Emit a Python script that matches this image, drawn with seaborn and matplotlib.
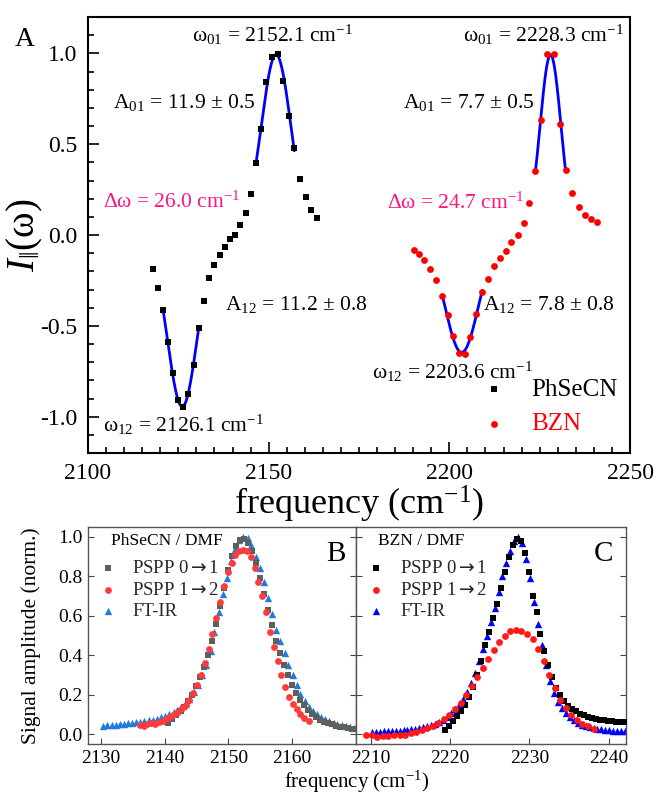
import numpy as np
import pandas as pd
import matplotlib
matplotlib.use("Agg")
import matplotlib.pyplot as plt
import seaborn as sns
from matplotlib.ticker import MultipleLocator

# ---------------- data (panel A) ----------------
phsecn_freq = [2117.9, 2119.4, 2120.75, 2122.1, 2123.5, 2124.9, 2126.3, 2127.8, 2129.2, 2130.6,
               2132.0, 2133.4, 2134.9, 2136.4, 2137.8, 2139.25, 2140.75, 2142.2, 2143.6, 2145.1,
               2146.5, 2148.0, 2149.4, 2151.0, 2152.6, 2154.1, 2155.6, 2157.1, 2158.6, 2160.2,
               2161.7, 2163.3]
phsecn_int = [-0.188, -0.289, -0.413, -0.589, -0.759, -0.910, -0.949, -0.875, -0.713, -0.514,
              -0.363, -0.234, -0.166, -0.109, -0.068, -0.024, 0.000, 0.053, 0.122, 0.227,
              0.396, 0.586, 0.841, 0.978, 0.996, 0.849, 0.654, 0.481, 0.306, 0.208,
              0.140, 0.094]
bzn_freq = [2190.1, 2191.6, 2193.1, 2194.7, 2196.4, 2198.0, 2199.5, 2201.0, 2202.6, 2204.25,
            2205.8, 2207.4, 2209.1, 2210.75, 2212.3, 2214.0, 2215.6, 2217.2, 2218.9, 2220.6,
            2222.1, 2223.8, 2225.5, 2227.1, 2228.9, 2230.6, 2232.2, 2234.0, 2235.8, 2237.5,
            2239.2, 2240.9]
bzn_int = [-0.083, -0.105, -0.138, -0.185, -0.245, -0.335, -0.442, -0.558, -0.649, -0.657,
           -0.560, -0.433, -0.312, -0.240, -0.170, -0.124, -0.087, -0.041, -0.002, 0.066,
           0.177, 0.354, 0.633, 0.994, 0.996, 0.613, 0.359, 0.230, 0.152, 0.112,
           0.086, 0.072]
# index ranges used by the fits
phsecn_dip_fit = (2, 10)
phsecn_peak_fit = (20, 28)
bzn_dip_fit = (5, 13)
bzn_peak_fit = (21, 27)

# ---------------- data (panel B: PhSeCN / DMF) ----------------
b_ftir_x = [2130.4, 2131.05, 2131.7, 2132.35, 2133.0, 2133.6, 2134.3, 2134.9, 2135.6, 2136.2,
            2136.85, 2137.5, 2138.15, 2138.8, 2139.4, 2140.1, 2140.7, 2141.4, 2142.0, 2142.65,
            2143.3, 2143.9, 2144.6, 2145.2, 2145.9, 2146.5, 2147.2, 2147.8, 2148.5, 2149.1,
            2149.75, 2150.4, 2151.0, 2151.7, 2152.3, 2153.0, 2153.6, 2154.3, 2154.9, 2155.55,
            2156.2, 2156.8, 2157.5, 2158.1, 2158.8, 2159.4, 2160.05, 2160.7, 2161.3, 2162.0,
            2162.6, 2163.3, 2163.9, 2164.5, 2165.2, 2165.8, 2166.5, 2167.1, 2167.8, 2168.4,
            2169.1, 2169.7]
b_ftir_y = [0.042, 0.044, 0.046, 0.048, 0.050, 0.052, 0.054, 0.057, 0.060, 0.063,
            0.066, 0.070, 0.074, 0.079, 0.085, 0.092, 0.100, 0.110, 0.122, 0.138,
            0.157, 0.180, 0.212, 0.248, 0.298, 0.350, 0.420, 0.520, 0.620, 0.710,
            0.790, 0.880, 0.940, 0.985, 1.000, 0.995, 0.960, 0.900, 0.840, 0.770,
            0.690, 0.610, 0.530, 0.470, 0.410, 0.350, 0.300, 0.250, 0.205, 0.170,
            0.140, 0.118, 0.100, 0.086, 0.075, 0.066, 0.058, 0.051, 0.045, 0.040,
            0.035, 0.031]
b_p01_x = [2140.6, 2141.2, 2141.8, 2142.5, 2143.1, 2143.7, 2144.3, 2145.0, 2145.6, 2146.2,
           2146.8, 2147.5, 2148.1, 2148.7, 2149.3, 2150.0, 2150.6, 2151.2, 2151.8, 2152.5,
           2153.1, 2153.7, 2154.3, 2155.0, 2155.6, 2156.2, 2156.8, 2157.5, 2158.1, 2158.7,
           2159.3, 2160.0, 2160.6, 2161.2, 2161.8, 2162.5, 2163.1, 2163.7, 2164.3, 2165.0,
           2165.6, 2166.2, 2166.8, 2167.5, 2168.1, 2168.7, 2169.3, 2170.0]
b_p01_y = [0.055, 0.075, 0.095, 0.115, 0.140, 0.170, 0.200, 0.245, 0.290, 0.340,
           0.400, 0.470, 0.560, 0.650, 0.740, 0.830, 0.905, 0.955, 0.985, 0.990,
           0.970, 0.930, 0.870, 0.790, 0.710, 0.630, 0.555, 0.470, 0.410, 0.350,
           0.300, 0.250, 0.210, 0.175, 0.148, 0.122, 0.102, 0.087, 0.074, 0.064,
           0.056, 0.049, 0.043, 0.038, 0.034, 0.030, 0.027, 0.024]
b_p12_x = [2136.1, 2136.7, 2137.3, 2137.9, 2138.5, 2139.1, 2139.7, 2140.3, 2140.9, 2141.5,
           2142.1, 2142.7, 2143.3, 2143.9, 2144.5, 2145.1, 2145.7, 2146.3, 2146.9, 2147.5,
           2148.1, 2148.7, 2149.3, 2149.9, 2150.5, 2151.1, 2151.7, 2152.3, 2152.9, 2153.5,
           2154.1, 2154.7, 2155.3, 2155.9, 2156.5, 2157.1, 2157.7, 2158.3, 2158.9, 2159.5,
           2160.1, 2160.7, 2161.3, 2161.9, 2162.6]
b_p12_y = [0.045, 0.040, 0.050, 0.055, 0.052, 0.060, 0.068, 0.078, 0.088, 0.100,
           0.112, 0.130, 0.150, 0.175, 0.210, 0.250, 0.300, 0.360, 0.430, 0.510,
           0.590, 0.670, 0.750, 0.820, 0.870, 0.910, 0.930, 0.935, 0.930, 0.900,
           0.840, 0.770, 0.700, 0.620, 0.520, 0.440, 0.370, 0.300, 0.240, 0.190,
           0.155, 0.125, 0.100, 0.080, 0.065]

# ---------------- data (panel C: BZN / DMF) ----------------
c_ftir_x = [2210.1, 2210.6, 2211.1, 2211.6, 2212.1, 2212.6, 2213.1, 2213.6, 2214.1, 2214.6,
            2215.1, 2215.6, 2216.1, 2216.6, 2217.1, 2217.6, 2218.1, 2218.6, 2219.1, 2219.6,
            2220.1, 2220.6, 2221.1, 2221.6, 2222.1, 2222.6, 2223.1, 2223.6, 2224.1, 2224.6,
            2225.1, 2225.6, 2226.1, 2226.6, 2227.1, 2227.6, 2228.1, 2228.6, 2229.1, 2229.6,
            2230.1, 2230.6, 2231.1, 2231.6, 2232.1, 2232.6, 2233.1, 2233.6, 2234.1, 2234.6,
            2235.1, 2235.6, 2236.1, 2236.6, 2237.1, 2237.6, 2238.1, 2238.6, 2239.1, 2239.6,
            2240.1, 2240.6, 2241.1, 2241.6, 2242.1]
c_ftir_y = [0.012, 0.013, 0.013, 0.014, 0.015, 0.016, 0.017, 0.018, 0.020, 0.022,
            0.024, 0.027, 0.030, 0.034, 0.039, 0.045, 0.052, 0.062, 0.074, 0.088,
            0.105, 0.125, 0.150, 0.180, 0.215, 0.260, 0.310, 0.370, 0.430, 0.500,
            0.570, 0.640, 0.720, 0.800, 0.870, 0.930, 0.980, 1.000, 0.970, 0.890,
            0.790, 0.670, 0.560, 0.450, 0.350, 0.270, 0.210, 0.165, 0.130, 0.105,
            0.085, 0.070, 0.058, 0.048, 0.041, 0.035, 0.031, 0.027, 0.024, 0.022,
            0.020, 0.018, 0.017, 0.016, 0.015]
c_p01_x = [2219.4, 2219.9, 2220.4, 2220.9, 2221.4, 2221.9, 2222.4, 2222.9, 2223.4, 2223.9,
           2224.4, 2224.9, 2225.4, 2225.9, 2226.4, 2226.9, 2227.4, 2227.9, 2228.4, 2228.9,
           2229.4, 2229.9, 2230.4, 2230.9, 2231.4, 2231.9, 2232.4, 2232.9, 2233.4, 2233.9,
           2234.4, 2234.9, 2235.4, 2235.9, 2236.4, 2236.9, 2237.4, 2237.9, 2238.4, 2238.9,
           2239.4, 2239.9, 2240.4, 2240.9, 2241.4, 2241.9]
c_p01_y = [0.020, 0.040, 0.065, 0.090, 0.115, 0.150, 0.190, 0.240, 0.300, 0.370,
           0.450, 0.520, 0.590, 0.660, 0.740, 0.820, 0.900, 0.960, 0.990, 0.980,
           0.920, 0.820, 0.700, 0.620, 0.510, 0.420, 0.350, 0.290, 0.235, 0.200,
           0.170, 0.145, 0.128, 0.115, 0.104, 0.095, 0.088, 0.082, 0.077, 0.073,
           0.070, 0.068, 0.066, 0.064, 0.063, 0.062]
c_p12_x = [2209.4, 2210.1, 2210.8, 2211.5, 2212.2, 2212.9, 2213.6, 2214.3, 2215.0, 2215.7,
           2216.4, 2217.1, 2217.8, 2218.5, 2219.2, 2219.9, 2220.6, 2221.3, 2222.0, 2222.7,
           2223.4, 2224.1, 2224.8, 2225.5, 2226.2, 2226.9, 2227.6, 2228.3, 2229.0, 2229.7,
           2230.4, 2231.1, 2231.8, 2232.5, 2233.2, 2233.9, 2234.6, 2235.3, 2236.0, 2236.7,
           2237.4, 2238.1]
c_p12_y = [-0.005, -0.004, -0.015, -0.010, -0.010, -0.006, -0.004, -0.002, 0.005, 0.012,
           0.020, 0.030, 0.042, 0.057, 0.075, 0.097, 0.125, 0.160, 0.200, 0.245,
           0.290, 0.335, 0.380, 0.425, 0.465, 0.500, 0.522, 0.528, 0.524, 0.510,
           0.480, 0.430, 0.370, 0.300, 0.235, 0.175, 0.130, 0.095, 0.070, 0.052,
           0.040, 0.025]

legend_labels = ["PSPP 0$\\mathsf{\\rightarrow}$1", "PSPP 1$\\mathsf{\\rightarrow}$2", "FT-IR"]

# ---------------- style ----------------
sns.set_theme(style="ticks")
plt.rcParams["font.family"] = ["Liberation Serif", "DejaVu Serif"]
plt.rcParams["mathtext.fontset"] = "custom"
plt.rcParams["mathtext.rm"] = "Liberation Serif"
plt.rcParams["mathtext.it"] = "Liberation Serif:italic"
plt.rcParams["mathtext.bf"] = "Liberation Serif:bold"
plt.rcParams["mathtext.sf"] = "DejaVu Sans"
plt.rcParams["axes.unicode_minus"] = False

W, H = 654, 794
fig = plt.figure(figsize=(W / 100, H / 100), dpi=100)


def frac(x0, y0, x1, y1):
    return [x0 / W, 1 - y1 / H, (x1 - x0) / W, (y1 - y0) / H]


axA = fig.add_axes(frac(88, 17, 630, 453))
axB = fig.add_axes(frac(88, 527, 356, 744))
axC = fig.add_axes(frac(356, 527, 626, 744))


def gauss_fit(x, y, sign):
    x = np.asarray(x, float)
    y = sign * np.asarray(y, float)
    xm = x.mean()
    c = np.polyfit(x - xm, np.log(y), 2)
    xf = np.linspace(x.min(), x.max(), 200)
    return xf, sign * np.exp(np.polyval(c, xf - xm))


# ---------------- panel A ----------------
sns.scatterplot(x=phsecn_freq, y=phsecn_int, ax=axA, marker="s", color="black",
                s=18, linewidth=0, label="PhSeCN", zorder=3)
sns.scatterplot(x=bzn_freq, y=bzn_int, ax=axA, marker="o", color="#ff0000",
                s=24, linewidth=0, label="BZN", zorder=3)
for fx, fy, (i0, i1), sgn in [(phsecn_freq, phsecn_int, phsecn_dip_fit, -1),
                              (phsecn_freq, phsecn_int, phsecn_peak_fit, 1),
                              (bzn_freq, bzn_int, bzn_dip_fit, -1),
                              (bzn_freq, bzn_int, bzn_peak_fit, 1)]:
    xf, yf = gauss_fit(fx[i0:i1], fy[i0:i1], sgn)
    sns.lineplot(x=xf, y=yf, ax=axA, color="#0000ff", lw=2, sort=False, zorder=2)

axA.set_xlim(2100, 2250)
axA.set_ylim(-1.2, 1.2)
axA.xaxis.set_major_locator(MultipleLocator(50))
axA.xaxis.set_minor_locator(MultipleLocator(5))
axA.yaxis.set_major_locator(MultipleLocator(0.5))
axA.yaxis.set_minor_locator(MultipleLocator(0.1))
axA.tick_params(which="both", direction="in", top=False, right=False, labelsize=17,
                width=1.2, color="black", labelcolor="black")
axA.tick_params(which="major", length=8, pad=7)
axA.tick_params(which="minor", length=4)
axA.tick_params(axis="y", which="major", pad=8)
for sp in axA.spines.values():
    sp.set_visible(True)
    sp.set_linewidth(1.5)
    sp.set_color("black")
axA.set_xlabel("frequency (cm$^{-1}$)", fontsize=26, labelpad=0, color="black")
axA.set_ylabel(r"$I_{\|}$(ω)", fontsize=28, labelpad=-4, color="black")

tk = dict(fontsize=15.5, color="black", ha="left", va="center")
pink = "#ff1480"
axA.text(2128.8, 1.10, "ω$_{01}$ = 2152.1 cm$^{-1}$", **tk)
axA.text(2106.9, 0.727, "A$_{01}$ = 11.9 ± 0.5", **tk)
axA.text(2104.2, 0.182, "Δω = 26.0 cm$^{-1}$", **{**tk, "color": pink})
axA.text(2137.9, -0.385, "A$_{12}$ = 11.2 ± 0.8", **tk)
axA.text(2104.2, -1.045, "ω$_{12}$ = 2126.1 cm$^{-1}$", **tk)
axA.text(2203.8, 1.10, "ω$_{01}$ = 2228.3 cm$^{-1}$", **tk)
axA.text(2187.2, 0.732, "A$_{01}$ = 7.7 ± 0.5", **tk)
axA.text(2182.8, 0.176, "Δω = 24.7 cm$^{-1}$", **{**tk, "color": pink})
axA.text(2209.3, -0.385, "A$_{12}$ = 7.8 ± 0.8", **tk)
axA.text(2178.6, -0.754, "ω$_{12}$ = 2203.6 cm$^{-1}$", **tk)
axA.legend(loc="lower right", bbox_to_anchor=(1.01, 0.0), frameon=False, fontsize=18,
           handletextpad=0.5, labelspacing=0.5, borderaxespad=0.3,
           labelcolor=["black", "red"], markerscale=1.0)
fig.text(25 / W, 1 - 40 / H, "A", fontsize=20, ha="center", va="center", color="black")

# ---------------- panels B and C ----------------
def style_small(ax, xlim, xticks, show_ylabels):
    ax.set_xlim(*xlim)
    ax.set_ylim(-0.05, 1.05)
    ax.set_xticks(xticks)
    ax.set_yticks([0.0, 0.2, 0.4, 0.6, 0.8, 1.0])
    ax.tick_params(direction="in", left=True, right=True, top=False, bottom=True,
                   length=4, width=0.8, labelsize=14, pad=4, color="#444444",
                   labelcolor="black", labelleft=show_ylabels)
    if show_ylabels:
        ax.set_yticklabels(["0.0", "0.2", "0.4", "0.6", "0.8", "1.0"])
    for sp in ax.spines.values():
        sp.set_visible(True)
        sp.set_linewidth(1.0)
        sp.set_color("#555555")
    ax.set_xlabel("")
    ax.set_ylabel("")


sns.scatterplot(x=b_ftir_x, y=b_ftir_y, ax=axB, marker="^", color="#1f7be0", s=28,
                linewidth=0, label=legend_labels[2], zorder=2)
sns.scatterplot(x=b_p01_x, y=b_p01_y, ax=axB, marker="s", color="#5f5f5f", s=15,
                linewidth=0, label=legend_labels[0], zorder=3)
sns.scatterplot(x=b_p12_x, y=b_p12_y, ax=axB, marker="o", color="#ff3b3b", s=24,
                linewidth=0, label=legend_labels[1], zorder=4)
style_small(axB, (2128, 2170), [2130, 2140, 2150, 2160], True)
hB, lB = axB.get_legend_handles_labels()
order = [1, 2, 0]
axB.legend([hB[i] for i in order], [lB[i] for i in order], loc="upper left",
           bbox_to_anchor=(-0.045, 0.91), frameon=False, fontsize=13.5,
           handletextpad=0.3, labelspacing=0.25, borderaxespad=0.3)
axB.text(0.085, 0.935, "PhSeCN / DMF", transform=axB.transAxes, fontsize=12.5,
         ha="left", va="center", color="black")
axB.text(0.925, 0.875, "B", transform=axB.transAxes, fontsize=21,
         ha="center", va="center", color="black")

sns.scatterplot(x=c_ftir_x, y=c_ftir_y, ax=axC, marker="^", color="#0000ff", s=28,
                linewidth=0, label=legend_labels[2], zorder=2)
sns.scatterplot(x=c_p01_x, y=c_p01_y, ax=axC, marker="s", color="black", s=15,
                linewidth=0, label=legend_labels[0], zorder=3)
sns.scatterplot(x=c_p12_x, y=c_p12_y, ax=axC, marker="o", color="#ff1a1a", s=24,
                linewidth=0, label=legend_labels[1], zorder=4)
style_small(axC, (2208.1, 2242.2), [2210, 2220, 2230, 2240], False)
axB.set_ylabel("Signal amplitude (norm.)", fontsize=15.5, labelpad=12, color="black")
hC, lC = axC.get_legend_handles_labels()
axC.legend([hC[i] for i in order], [lC[i] for i in order], loc="upper left",
           bbox_to_anchor=(-0.045, 0.91), frameon=False, fontsize=13.5,
           handletextpad=0.3, labelspacing=0.25, borderaxespad=0.3)
axC.text(0.08, 0.935, "BZN / DMF", transform=axC.transAxes, fontsize=12.5,
         ha="left", va="center", color="black")
axC.text(0.915, 0.875, "C", transform=axC.transAxes, fontsize=21,
         ha="center", va="center", color="black")

fig.text(357 / W, 1 - 782 / H, "frequency (cm$^{-1}$)", fontsize=15, ha="center",
         va="center", color="black")

fig.savefig("out.png", dpi=100, facecolor="white")
